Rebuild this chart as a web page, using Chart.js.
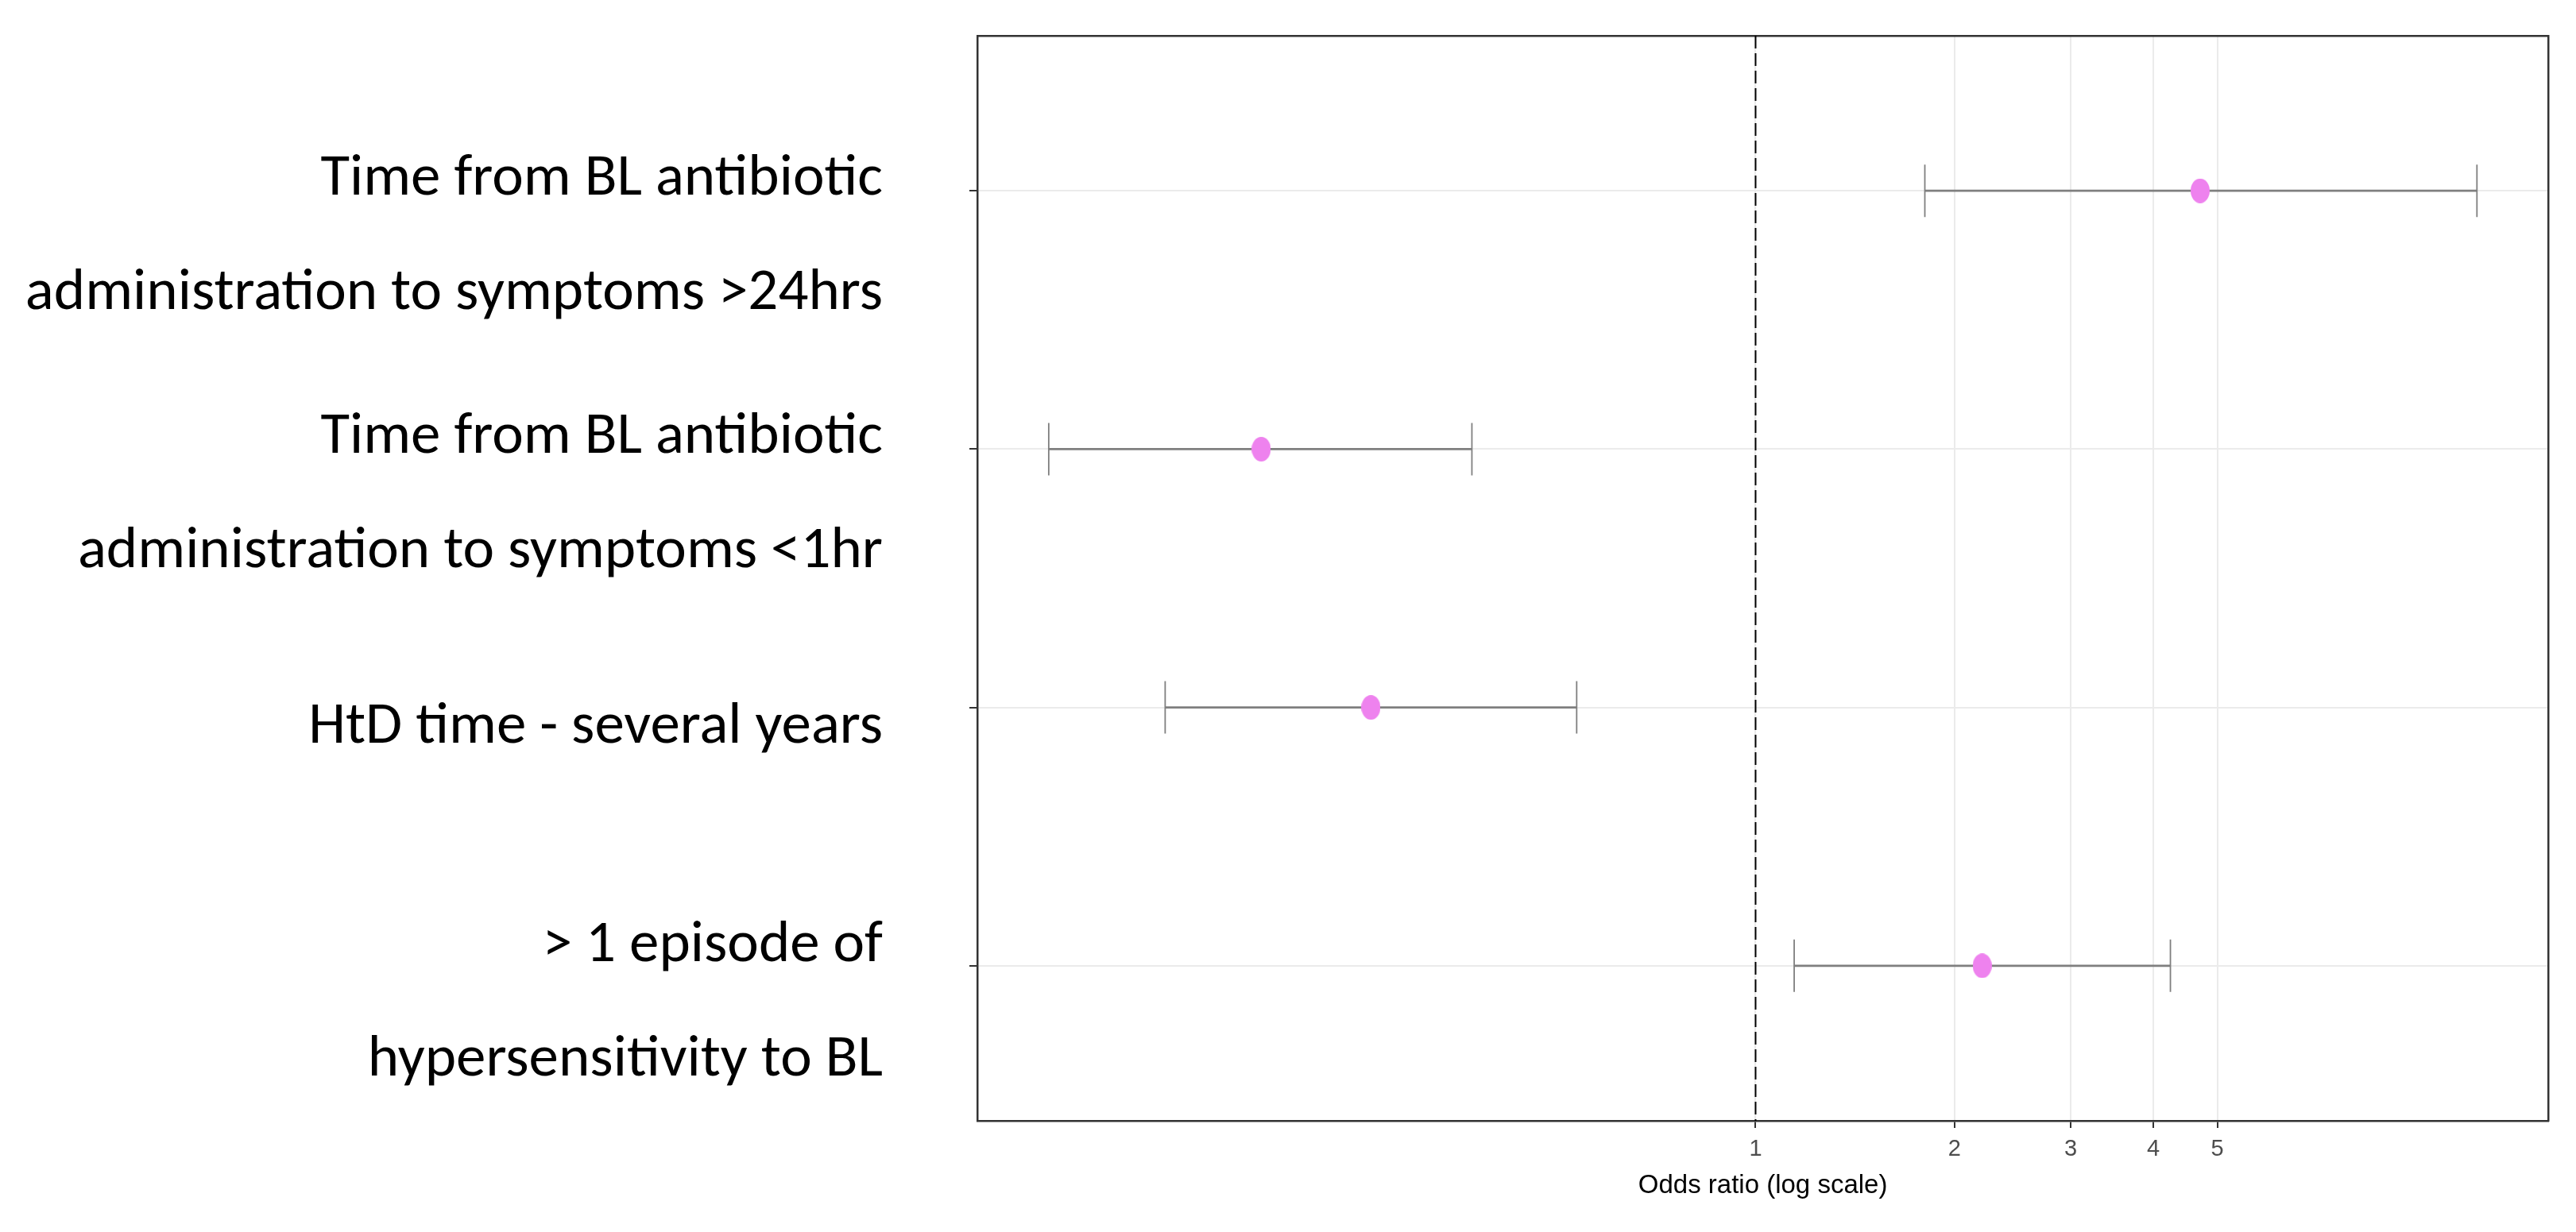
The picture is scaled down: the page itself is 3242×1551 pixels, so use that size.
<!DOCTYPE html>
<html>
<head>
<meta charset="utf-8">
<script src="https://cdn.jsdelivr.net/npm/chart.js@4.4.1/dist/chart.umd.min.js"></script>
<style>
  html, body { margin: 0; padding: 0; background: #ffffff; }
  #wrap { width: 3242px; height: 1551px; position: relative; }
</style>
</head>
<body>
<div id="wrap"><canvas id="c"></canvas></div>
<script>
// ---------------- data ----------------
const categories = [
  ["Time from BL antibiotic", "administration to symptoms >24hrs"],
  ["Time from BL antibiotic", "administration to symptoms <1hr"],
  ["HtD time - several years"],
  ["> 1 episode of", "hypersensitivity to BL"]
];
const oddsRatio = [4.71, 0.1785, 0.2616, 2.203];
const ciLower   = [1.804, 0.0851, 0.1277, 1.144];
const ciUpper   = [12.36, 0.372, 0.536, 4.246];
const xTickValues = [1, 2, 3, 4, 5];
const referenceOR = 1;
const xTitle = "Odds ratio (log scale)";

// ---------------- layout / style ----------------
const rowPos = categories.map((_, i) => i + 1);
const yMin = 0.4, yMax = categories.length + 0.6;
const labelCenterShift = [0.178, 0.178, 0.08, 0.145];
const labelLineStep = 0.442;
const labelFont = "Carlito, Calibri, Lato, sans-serif";
const axisFont = "'Liberation Sans', Arial, sans-serif";

// label lines as separate ticks of a text-only axis
const labelLines = [];
categories.forEach((lines, i) => {
  const n = lines.length;
  lines.forEach((t, j) => {
    labelLines.push({ value: rowPos[i] + labelCenterShift[i] + (j - (n - 1) / 2) * labelLineStep, text: t });
  });
});

// x range: 5% expansion on log scale (ggplot style)
const lo = Math.log10(Math.min(...ciLower)), hi = Math.log10(Math.max(...ciUpper));
const ex = (hi - lo) * 0.05;
const xMin = Math.pow(10, lo - ex), xMax = Math.pow(10, hi + ex);

// point marker (slightly narrow ellipse, like the reference)
const dot = document.createElement('canvas');
dot.width = 24; dot.height = 31;
const g = dot.getContext('2d');
g.fillStyle = '#EE82EE';
g.beginPath(); g.ellipse(12, 15.5, 12, 15.5, 0, 0, 2 * Math.PI); g.fill();

const ciColor = '#7F7F7F';
const frameColor = '#333333';
const gridColor = '#EBEBEB';

const noPad = (s) => { s.paddingTop = 0; s.paddingBottom = 0; s.paddingLeft = 0; s.paddingRight = 0; };

const datasets = [];
rowPos.forEach((r, i) => {
  datasets.push({
    type: 'line',
    data: [{ x: ciLower[i], y: r }, { x: ciUpper[i], y: r }],
    borderColor: ciColor, borderWidth: 2.6, pointRadius: 0, order: 2,
    xAxisID: 'x', yAxisID: 'y'
  });
});
datasets.push({
  type: 'scatter',
  data: rowPos.map((r, i) => ({ x: ciLower[i], y: r })).concat(rowPos.map((r, i) => ({ x: ciUpper[i], y: r }))),
  pointStyle: 'line', pointRotation: 90, pointRadius: 33,
  pointBorderColor: ciColor, pointBorderWidth: 1.8, order: 1,
  xAxisID: 'x', yAxisID: 'y'
});
datasets.push({
  type: 'scatter',
  data: rowPos.map((r, i) => ({ x: oddsRatio[i], y: r })),
  pointStyle: dot, pointRadius: 15, order: 0,
  xAxisID: 'x', yAxisID: 'y'
});
datasets.push({
  type: 'line',
  data: [{ x: referenceOR, y: yMin }, { x: referenceOR, y: yMax }],
  borderColor: '#000000', borderWidth: 2, borderDash: [16, 6], pointRadius: 0, order: 3,
  xAxisID: 'x', yAxisID: 'y'
});

new Chart(document.getElementById('c'), {
  type: 'scatter',
  data: { datasets },
  options: {
    responsive: true,
    maintainAspectRatio: false,
    devicePixelRatio: 1,
    animation: false,
    events: [],
    layout: { padding: { left: 0, top: 45, right: 33, bottom: 30 } },
    plugins: { legend: { display: false }, tooltip: { enabled: false } },
    scales: {
      x: {
        type: 'logarithmic', position: 'bottom', min: xMin, max: xMax,
        afterBuildTicks: (s) => { s.ticks = xTickValues.map(v => ({ value: v })); },
        afterFit: (s) => { s.height = 110; noPad(s); },
        grid: { color: gridColor, lineWidth: 2, tickColor: frameColor, tickLength: 9, tickWidth: 2 },
        border: { display: true, color: frameColor, width: 2.5 },
        ticks: { autoSkip: false, maxRotation: 0, padding: 10, color: '#4D4D4D',
                 font: { family: axisFont, size: 29 }, callback: (v) => String(v) },
        title: { display: true, text: xTitle, color: '#000000',
                 font: { family: axisFont, size: 33, lineHeight: 1.2 }, padding: { top: 0, bottom: 8 } }
      },
      xTop: {
        type: 'linear', position: 'top', min: 0, max: 1,
        afterFit: (s) => { s.height = 0; noPad(s); },
        grid: { display: false, drawTicks: false },
        ticks: { display: false },
        border: { display: true, color: frameColor, width: 2.5 }
      },
      y: {
        type: 'linear', position: 'left', reverse: true, min: yMin, max: yMax, weight: 0,
        afterBuildTicks: (s) => { s.ticks = rowPos.map(v => ({ value: v })); },
        afterFit: (s) => { s.width = 10; noPad(s); },
        grid: { color: gridColor, lineWidth: 2, tickColor: frameColor, tickLength: 10, tickWidth: 2 },
        border: { display: true, color: frameColor, width: 2.5 },
        ticks: { display: false }
      },
      yl: {
        type: 'linear', position: 'left', reverse: true, min: yMin, max: yMax, weight: 1,
        afterBuildTicks: (s) => { s.ticks = labelLines.map(l => ({ value: l.value })); },
        afterFit: (s) => { s.width = 1220; noPad(s); },
        grid: { display: false, drawTicks: false },
        border: { display: false },
        ticks: { autoSkip: false, padding: 109, color: '#000000',
                 font: { family: labelFont, size: 75 },
                 callback: (v, i) => labelLines[i].text }
      },
      yRight: {
        type: 'linear', position: 'right', min: 0, max: 1,
        afterFit: (s) => { s.width = 0; noPad(s); },
        grid: { display: false, drawTicks: false },
        ticks: { display: false },
        border: { display: true, color: frameColor, width: 2.5 }
      }
    }
  }
});
</script>
</body>
</html>
